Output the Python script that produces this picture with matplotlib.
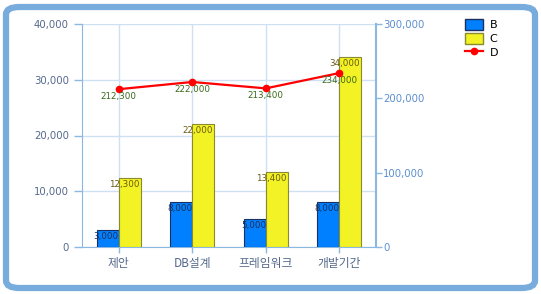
import numpy as np
import matplotlib.pyplot as plt
from matplotlib.patches import FancyBboxPatch, Patch
from matplotlib.lines import Line2D

plt.rcParams['font.family'] = ['Noto Sans CJK KR', 'DejaVu Sans']

# data
categories = ['제안', 'DB설계', '프레임워크', '개발기간']
b_vals = [3000, 8000, 5000, 8000]
c_vals = [12300, 22000, 13400, 34000]
d_vals = [212300, 222000, 213400, 234000]

left_ticks = [0, 10000, 20000, 30000, 40000]
right_ticks = [0, 100000, 200000, 300000]

axis_col = '#8ab8e0'
grid_col = '#cfe0f2'
lab_col = '#54698c'

fig = plt.figure(figsize=(5.41, 2.94), dpi=100)

# rounded frame
frame = FancyBboxPatch((6/541, 6/294), 529/541, 281/294,
                       boxstyle='round,pad=0,rounding_size=0.025',
                       transform=fig.transFigure, facecolor='white',
                       edgecolor='#78acdc', linewidth=4.5, zorder=-5)
fig.patches.append(frame)

ax = fig.add_axes([82/541, 1 - 247/294, (376 - 82)/541, (247 - 24)/294])
ax.set_facecolor('none')
ax2 = ax.twinx()

x = np.arange(len(categories)) + 0.5
w = 0.3
ax.bar(x - w/2, b_vals, w, color='#0080ff', edgecolor='#1a3060', linewidth=0.8, zorder=3)
ax.bar(x + w/2, c_vals, w, color='#f2f224', edgecolor='#8a8a30', linewidth=0.8, zorder=3)

for xi, v in zip(x, b_vals):
    ax.annotate(f'{v:,}', (xi - w/2, v), xytext=(-1, -1), textcoords='offset points',
                ha='center', va='top', fontsize=6.3, color='#1e2f55', family='DejaVu Sans', zorder=5)
for xi, v in zip(x, c_vals):
    ax.annotate(f'{v:,}', (xi + w/2, v), xytext=(-4, -1), textcoords='offset points',
                ha='center', va='top', fontsize=6.3, color='#6b5a10', family='DejaVu Sans', zorder=5)

ax.set_xlim(0, 4)
ax.set_ylim(0, 40000)
ax.set_yticks(left_ticks)
ax.set_yticklabels([f'{t:,}' for t in left_ticks], family='DejaVu Sans')
ax.set_xticks(x)
ax.set_xticklabels(categories, fontsize=8.5)
ax.grid(True, color=grid_col, linewidth=1, zorder=0)
ax.set_axisbelow(True)
ax.tick_params(axis='y', colors=axis_col, labelcolor=lab_col, labelsize=7.3, length=6, width=1)
ax.tick_params(axis='x', colors=axis_col, labelcolor=lab_col, length=4, width=1, pad=3)
for s in ['top', 'right']:
    ax.spines[s].set_visible(False)
ax.spines['left'].set_color(axis_col)
ax.spines['bottom'].set_color(axis_col)

ax2.plot(x, d_vals, color='#ff0000', linewidth=1.6, marker='o', markersize=4.5,
         markerfacecolor='#ff0000', markeredgecolor='#ff0000', zorder=6)
for xi, v in zip(x, d_vals):
    ax2.annotate(f'{v:,}', (xi, v), xytext=(0, -2), textcoords='offset points',
                 ha='center', va='top', fontsize=6.3, color='#3a6a1a', family='DejaVu Sans', zorder=7)
ax2.set_ylim(0, 300000)
ax2.set_yticks(right_ticks)
ax2.set_yticklabels([f'{t:,}' for t in right_ticks], family='DejaVu Sans')
ax2.tick_params(axis='y', colors=axis_col, labelcolor='#5b8fcf', labelsize=7.3, length=4, width=1, pad=1)
for s in ['top', 'left', 'bottom']:
    ax2.spines[s].set_visible(False)
ax2.spines['right'].set_color(axis_col)
ax2.spines['right'].set_linewidth(1.5)

handles = [Patch(facecolor='#0080ff', edgecolor='#1a3060', label='B'),
           Patch(facecolor='#f2f224', edgecolor='#8a8a30', label='C'),
           Line2D([0], [0], color='#ff0000', linewidth=1.6, marker='o', markersize=4.5, label='D')]
fig.legend(handles=handles, loc='upper left', bbox_to_anchor=(455/541, 1 - 9/294),
           frameon=False, handlelength=1.6, handleheight=1.2,
           labelspacing=0.2, handletextpad=0.6, prop={'family': 'DejaVu Sans', 'size': 8})

fig.savefig('out.png', dpi=100)
